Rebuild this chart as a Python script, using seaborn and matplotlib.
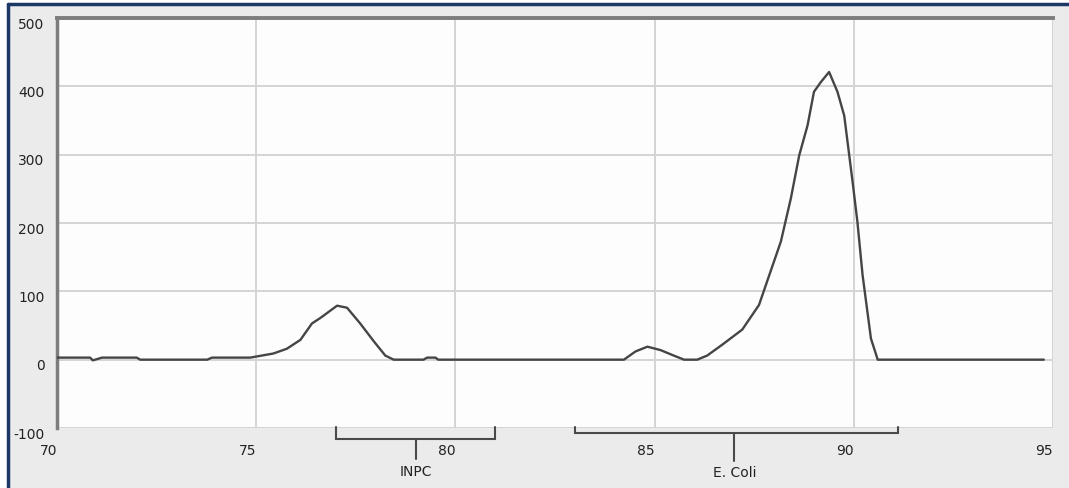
import matplotlib
matplotlib.use("Agg")
import matplotlib.pyplot as plt
from matplotlib.lines import Line2D
from matplotlib.patches import Rectangle
import matplotlib.transforms as mtransforms
import numpy as np
import pandas as pd
import seaborn as sns

# Melt curve: temperature (deg C) vs. -dF/dT signal
temperature = [
    70.0, 70.83, 70.9, 71.13, 72.0, 72.09, 73.77, 73.89, 74.85,
    75.43, 75.77, 76.11, 76.40, 76.61, 77.03, 77.28, 77.61, 77.95,
    78.24, 78.45, 79.20, 79.29, 79.50, 79.57,
    83.14, 84.23, 84.52, 84.82, 85.15, 85.48, 85.74, 86.07, 86.32,
    86.70, 87.20, 87.62, 87.91, 88.17, 88.42, 88.63, 88.84, 89.00,
    89.17, 89.38, 89.59, 89.76, 89.97, 90.09, 90.22, 90.43, 90.60,
    94.77,
]
signal = [
    3, 3, -1, 3, 3, 0, 0, 3, 3,
    9, 16, 29, 53, 61, 79, 76, 53, 27,
    6, 0, 0, 3, 3, 0,
    0, 0, 12, 19, 14, 6, 0, 0, 6,
    22, 44, 80, 129, 173, 236, 299, 343, 392,
    406, 421, 392, 357, 260, 202, 124, 31, 0,
    0,
]

# Product ranges marked under the axis: (name, start, end, centre)
product_names = ["INPC", "E. Coli"]
product_start = [77.0, 83.0]
product_end = [81.0, 91.1]
product_centre = [79.0, 87.0]

x_ticks = [70, 75, 80, 85, 90, 95]
y_ticks = [-100, 0, 100, 200, 300, 400, 500]

df = pd.DataFrame({"temperature": temperature, "signal": signal})

sns.set_style("white")
plt.rcParams["font.family"] = ["DejaVu Sans"]

W, H = 1069, 489
fig = plt.figure(figsize=(W / 100, H / 100), dpi=100, facecolor="white")

# Grey panel with dark blue frame on the left and top
fig.add_artist(Rectangle((9 / W, 0), 1 - 9 / W, 1 - 6 / H, transform=fig.transFigure,
                         facecolor="#ebebeb", edgecolor="none", zorder=-10))
fig.add_artist(Line2D([7.5 / W, 7.5 / W], [0, 1 - 5 / H], transform=fig.transFigure,
                      color="#1b3866", lw=2.5))
fig.add_artist(Line2D([7.5 / W, 1], [1 - 5 / H, 1 - 5 / H], transform=fig.transFigure,
                      color="#1b3866", lw=2.5))

left, right = 57 / W, 1053 / W
bottom, top = (H - 429) / H, (H - 19) / H
ax = fig.add_axes([left, bottom, right - left, top - bottom])
ax.set_facecolor("#fdfdfd")

sns.lineplot(data=df, x="temperature", y="signal", ax=ax, color="#454545",
             lw=1.7, zorder=5)

ax.set_xlim(70, 95)
ax.set_ylim(-100, 500)
ax.set_xticks(x_ticks)
ax.set_yticks(y_ticks)
ax.set_xticklabels([str(t) for t in x_ticks], ha="right")
ax.set_yticklabels([str(t) for t in y_ticks])
ax.set_xlabel("")
ax.set_ylabel("")
ax.tick_params(axis="both", length=0, labelsize=10, colors="#222222")
ax.tick_params(axis="x", pad=11)
ax.tick_params(axis="y", pad=9)

# nudge the value labels down a little
off_y = mtransforms.ScaledTranslation(0, -3 / 72, fig.dpi_scale_trans)
for lab in ax.get_yticklabels():
    lab.set_transform(lab.get_transform() + off_y)

ax.grid(True, color="#d4d4d4", lw=1.4)
ax.set_axisbelow(True)

for side in ["bottom", "right"]:
    ax.spines[side].set_visible(False)
ax.spines["left"].set_color("#7d7d7d")
ax.spines["left"].set_linewidth(2.5)
ax.spines["top"].set_color("#7d7d7d")
ax.spines["top"].set_linewidth(2.8)

# Product range brackets below the axis
tr = ax.get_xaxis_transform()
bar_y = [-0.027, -0.013]
stem_y = [-0.076, -0.080]
label_y = [-0.105, -0.107]
for name, s, e, c, by, sy, ly in zip(product_names, product_start, product_end,
                                     product_centre, bar_y, stem_y, label_y):
    ax.plot([s, s, e, e], [0.002, by, by, 0.002], transform=tr, color="#4a4a4a",
            lw=1.5, clip_on=False, solid_joinstyle="miter")
    ax.plot([c, c], [by, sy], transform=tr, color="#4a4a4a", lw=1.5, clip_on=False)
    ax.text(c, ly, name, transform=tr, ha="center", va="center", fontsize=10,
            color="#222222")

fig.savefig("out.png", dpi=100, facecolor="white")
